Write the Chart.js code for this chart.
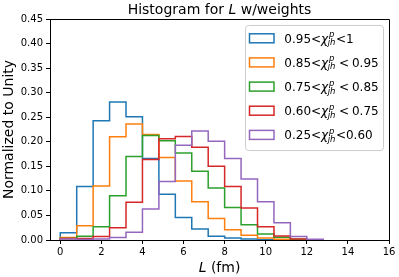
<!DOCTYPE html>
<html><head><meta charset="utf-8">
<script src="https://cdn.jsdelivr.net/npm/chart.js@4"></script>
<style>html,body{margin:0;padding:0;background:#fff}#wrap{width:399px;height:277px}</style>
</head><body><div id="wrap"><canvas id="c" width="399" height="277"></canvas></div>
<script>
const binEdges = [0, 0.8, 1.6, 2.4, 3.2, 4.0, 4.8, 5.6, 6.4, 7.2, 8.0, 8.8, 9.6, 10.4, 11.2, 12.0, 12.8];
const blueVals   = [0.015, 0.109, 0.243, 0.281, 0.251, 0.166, 0.093, 0.046, 0.0225, 0.0075, 0.004, 0.002, 0.0007, 0, 0, 0];
const orangeVals = [0.005, 0.029, 0.110, 0.210, 0.236, 0.215, 0.168, 0.120, 0.078, 0.044, 0.021, 0.0095, 0.004, 0.0015, 0.0005, 0];
const greenVals  = [0.003, 0.0075, 0.027, 0.090, 0.170, 0.213, 0.202, 0.177, 0.140, 0.106, 0.066, 0.031, 0.012, 0.0055, 0.0015, 0];
const redVals    = [0.003, 0.003, 0.007, 0.025, 0.077, 0.164, 0.206, 0.211, 0.189, 0.150, 0.109, 0.065, 0.027, 0.008, 0.002, 0.0005];
const purpleVals = [0.002, 0.001, 0.002, 0.005, 0.016, 0.063, 0.119, 0.193, 0.222, 0.201, 0.166, 0.124, 0.078, 0.035, 0.007, 0.0015];
const legendPre  = ['0.95<', '0.85<', '0.75<', '0.60<', '0.25<'];
const legendPost = ['<1', '<0.95', '<0.85', '<0.75', '<0.60'];
const legendMathGap = [false, true, true, true, false];
const colors = ['#1f77b4', '#ff7f0e', '#2ca02c', '#d62728', '#9467bd'];
const xTicks = [0, 2, 4, 6, 8, 10, 12, 14, 16];
const yTicks = [0, 0.05, 0.10, 0.15, 0.20, 0.25, 0.30, 0.35, 0.40, 0.45];
const titleText = ['Histogram for ', 'L', ' w/weights'];
const xLabelText = ['L', ' (fm)'];
const yLabelText = 'Normalized to Unity';

const allVals = [blueVals, orangeVals, greenVals, redVals, purpleVals];
const FONT = '"DejaVu Sans", sans-serif';

function stepPoints(vals) {
  const pts = [{x: binEdges[0], y: 0}];
  vals.forEach((v, i) => { pts.push({x: binEdges[i], y: v}); pts.push({x: binEdges[i + 1], y: v}); });
  pts.push({x: binEdges[binEdges.length - 1], y: 0});
  return pts;
}

function drawMixed(ctx, parts, x, y, size, align) {
  // parts: [text, italic]
  let total = 0;
  parts.forEach(p => { ctx.font = (p[1] ? 'italic ' : '') + size + 'px ' + FONT; total += ctx.measureText(p[0]).width; });
  let cx = align === 'center' ? x - total / 2 : x;
  ctx.textAlign = 'left';
  parts.forEach(p => { ctx.font = (p[1] ? 'italic ' : '') + size + 'px ' + FONT; ctx.fillText(p[0], cx, y); cx += ctx.measureText(p[0]).width; });
}

const decor = {
  id: 'decor',
  afterDraw(chart) {
    const ctx = chart.ctx, a = chart.chartArea;
    ctx.save();
    // top and right spines
    ctx.strokeStyle = '#000'; ctx.lineWidth = 1;
    ctx.beginPath();
    ctx.moveTo(Math.round(a.left) - 0.5, Math.round(a.top) + 0.5);
    ctx.lineTo(Math.round(a.right) + 0.5, Math.round(a.top) + 0.5);
    ctx.lineTo(Math.round(a.right) + 0.5, Math.round(a.bottom));
    ctx.stroke();
    ctx.fillStyle = '#000';
    ctx.textBaseline = 'alphabetic';
    const cxm = (a.left + a.right) / 2;
    drawMixed(ctx, [[titleText[0], false], [titleText[1], true], [titleText[2], false]], cxm, 13.5, 14, 'center');
    drawMixed(ctx, [[xLabelText[0], true], [xLabelText[1], false]], cxm, 272.3, 14, 'center');
    ctx.save();
    ctx.translate(13.3, (a.top + a.bottom) / 2);
    ctx.rotate(-Math.PI / 2);
    ctx.font = '14px ' + FONT; ctx.textAlign = 'center';
    ctx.fillText(yLabelText, 0, 0);
    ctx.restore();
    // legend
    const lx = 245.5, ly = 25.5, lw = 138, lh = 125, r = 3;
    ctx.globalAlpha = 0.8; ctx.fillStyle = '#fff';
    ctx.beginPath(); ctx.roundRect(lx, ly, lw, lh, r); ctx.fill();
    ctx.globalAlpha = 1; ctx.strokeStyle = '#cccccc'; ctx.lineWidth = 1; ctx.stroke();
    const rows = [38.3, 62.4, 86.6, 110.7, 134.9];
    rows.forEach((cy, i) => {
      ctx.strokeStyle = colors[i]; ctx.lineWidth = 1.5;
      ctx.strokeRect(249.5, cy - 4.5, 24.5, 9);
      ctx.fillStyle = '#000';
      let x = 284.3; const base = cy + 4.4;
      ctx.font = '12px ' + FONT; ctx.textAlign = 'left';
      ctx.fillText(legendPre[i], x, base); x += ctx.measureText(legendPre[i]).width;
      ctx.font = 'italic 12px ' + FONT;
      ctx.fillText('\u03c7', x, base); x += ctx.measureText('\u03c7').width;
      ctx.font = 'italic 8.5px ' + FONT;
      const wp = ctx.measureText('p').width, wj = ctx.measureText('jh').width;
      ctx.fillText('p', x + 0.8, base - 5.5);
      ctx.fillText('jh', x - 0.5, base + 2.5);
      x += Math.max(wp + 0.8, wj - 0.5) + 0.5;
      ctx.font = '12px ' + FONT;
      if (legendMathGap[i]) {
        x += 3;
        ctx.fillText('<', x, base); x += ctx.measureText('<').width + 3;
        ctx.fillText(legendPost[i].slice(1), x, base);
      } else {
        ctx.fillText(legendPost[i], x, base);
      }
    });
    ctx.restore();
  }
};

new Chart(document.getElementById('c'), {
  type: 'line',
  data: {
    datasets: allVals.map((vals, i) => ({
      data: stepPoints(vals),
      borderColor: colors[i],
      borderWidth: 1.5,
      pointRadius: 0,
      fill: false,
      tension: 0,
      order: allVals.length - 1 - i
    }))
  },
  options: {
    responsive: false,
    animation: false,
    devicePixelRatio: 1,
    layout: {padding: {left: 0, top: 19, right: 10, bottom: 0}},
    plugins: {legend: {display: false}, tooltip: {enabled: false}, title: {display: false}},
    scales: {
      x: {
        type: 'linear', min: -0.5, max: 16,
        afterBuildTicks: s => { s.ticks = xTicks.map(v => ({value: v})); },
        afterFit: s => { s.height = 37; },
        grid: {drawOnChartArea: false, drawTicks: true, tickLength: 4, color: '#000'},
        border: {color: '#000', width: 1},
        ticks: {color: '#000', font: {family: FONT, size: 10}, padding: 2, maxRotation: 0, autoSkip: false, callback: v => String(v)}
      },
      y: {
        type: 'linear', min: 0, max: 0.45,
        afterBuildTicks: s => { s.ticks = yTicks.map(v => ({value: v})); },
        afterFit: s => { s.width = 50; },
        grid: {drawOnChartArea: false, drawTicks: true, tickLength: 4, color: '#000'},
        border: {color: '#000', width: 1},
        ticks: {color: '#000', font: {family: FONT, size: 10}, padding: 3, autoSkip: false, callback: v => Number(v).toFixed(2)}
      }
    }
  },
  plugins: [decor]
});
</script></body></html>
